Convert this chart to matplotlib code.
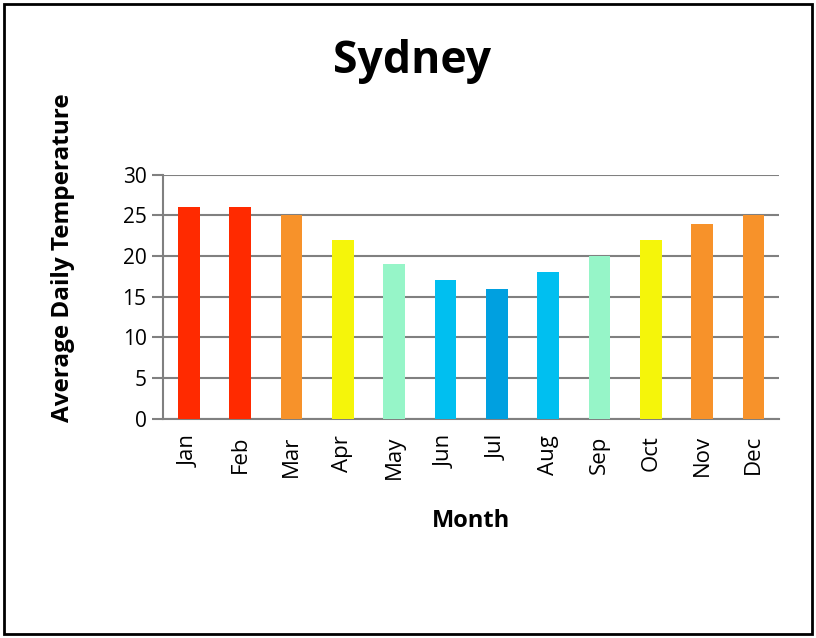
import matplotlib
matplotlib.use("Agg")
import matplotlib.pyplot as plt
from matplotlib.patches import Rectangle

months = ['Jan', 'Feb', 'Mar', 'Apr', 'May', 'Jun', 'Jul', 'Aug', 'Sep', 'Oct', 'Nov', 'Dec']
temps = [26, 26, 25, 22, 19, 17, 16, 18, 20, 22, 24, 25]
colors = ['#FF2A00', '#FF2A00', '#F7922A', '#F5F50A', '#96F5C8', '#00BFF0',
          '#00A0E0', '#00BFF0', '#96F5C8', '#F5F50A', '#F7922A', '#F7922A']

plt.rcParams['font.family'] = ['Open Sans', 'DejaVu Sans']

fig = plt.figure(figsize=(8.16, 6.38), dpi=100)
ax = fig.add_axes([0.2, 0.344, 0.755, 0.382])

# bars
ax.bar(months, temps, width=0.42, color=colors, zorder=3)

ax.set_ylim(0, 30)
ax.set_xlim(-0.5, 11.5)
ax.set_yticks(range(0, 31, 5))
ax.yaxis.grid(True, color='#808080', linewidth=1.5, zorder=0)
ax.set_axisbelow(True)

for s in ['top', 'right']:
    ax.spines[s].set_visible(False)
ax.spines['left'].set_color('#808080')
ax.spines['left'].set_linewidth(1.5)
ax.spines['bottom'].set_color('#808080')
ax.spines['bottom'].set_linewidth(1.5)

ax.tick_params(axis='y', length=8, width=1.5, color='#808080', labelsize=15, pad=4)
ax.tick_params(axis='x', length=0, labelsize=16, rotation=90, pad=12)

ax.set_xlabel('Month', fontsize=17, fontweight='bold', labelpad=22)
ax.set_ylabel('Average Daily Temperature', fontsize=17.5, fontweight='bold')
ax.yaxis.set_label_coords(-0.143, 0.66)
fig.text(0.505, 0.903, 'Sydney', ha='center', va='center', fontsize=32, fontweight='bold')

# border round the chart
fig.patches.append(Rectangle((0.005, 0.006), 0.99, 0.988, transform=fig.transFigure,
                             fill=False, edgecolor='black', linewidth=2))

plt.savefig('out.png')
